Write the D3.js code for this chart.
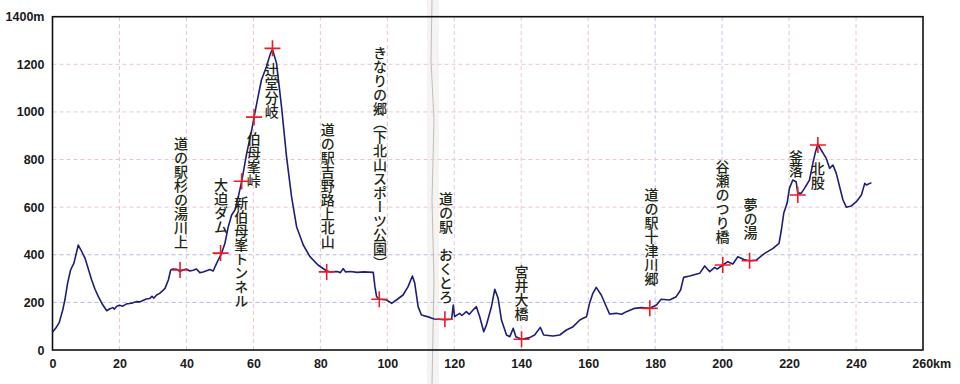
<!DOCTYPE html>
<html>
<head>
<meta charset="utf-8">
<script src="https://cdn.jsdelivr.net/npm/d3@7"></script>
<style>
  html, body { margin: 0; padding: 0; background: #fff; }
  svg { display: block; }
  .tick-label { font-family: "Liberation Sans", Arial, sans-serif; font-weight: bold; font-size: 12.5px; fill: #1a1a1a; }
  .place { font-family: "Noto Sans CJK JP", sans-serif; font-weight: 500; font-size: 14px; fill: #1c2614; writing-mode: vertical-rl; }
</style>
</head>
<body>
<svg id="chart" width="960" height="384"></svg>
<script>
// profile: distance (km) / elevation (m)
var distKm = [0,1,2,3,3.7,4.5,5.4,6.4,7.7,8.5,9.7,10.7,11.7,12.7,13.7,15,16.2,17,18,18.5,19.2,20,21,22,23,24,25,26,27,28,29,29.7,30.3,31.1,32,33,33.6,34.6,35.3,36,37.1,38,39,40,41,42,43,44,45,46,47,48,49,50.5,51.5,52.5,53.5,54.5,55.5,56.5,58,59.5,60.2,61.4,62.4,63.9,65.1,65.7,66.9,68.4,69.9,71.4,72.9,74.9,76.9,79.3,81.8,83,85,86,86.8,87.5,89,91,93,95.8,96.3,96.8,97.6,99.8,101.3,102.7,104.7,106.2,107.5,108.2,109.2,110.2,112.7,114,115.2,117.2,119.2,119.7,120.1,121.6,122.3,123.6,124.5,125.6,126.6,127.6,128.8,129.6,131.1,132.1,133.1,134.1,135.6,136.6,137.6,138.4,140.1,142.5,144,145.7,146.7,149.5,151.5,153.5,155.5,157.5,158.5,159.5,160.4,161.4,162.4,163.9,165.2,166.4,168.4,170,171.4,173.9,176,178.4,180.4,181.8,184.3,186.3,187.6,188.5,190.3,193.3,194.8,196.3,197.8,198.5,200.2,201.7,203.2,204.7,206.5,208.2,210.2,212.7,215.2,217,217.7,218.4,219.4,220.1,221.1,222.1,222.6,223.6,224.6,226.1,227.1,227.9,228.6,229.6,231.1,232.1,233.1,234.1,235.1,236.1,237.1,238.6,240.1,241.6,242.6,243.1,244.6];
var elevM = [75,92,115,165,210,280,336,365,441,420,386,340,294,255,224,190,165,172,178,172,184,188,184,193,195,198,203,202,208,214,216,225,218,231,238,250,259,294,336,340,339,330,336,340,332,335,340,325,328,333,338,332,364,406,448,518,567,588,644,707,826,924,978,1064,1134,1190,1246,1262,1205,1022,812,644,518,441,392,357,333,328,330,325,342,328,330,326,328,326,266,224,213,210,196,210,231,266,311,280,182,147,137,130,129,127,129,189,140,154,145,161,150,168,182,140,77,105,182,255,217,126,63,56,91,56,45,52,63,95,63,59,63,84,98,126,133,140,196,238,263,231,189,151,154,150,161,175,178,175,189,213,210,224,252,305,311,322,353,329,347,340,357,371,361,392,380,375,378,406,427,448,504,574,616,679,714,707,660,658,679,714,784,833,865,840,805,763,777,742,686,630,600,605,623,651,700,693,703];

// named points along the route
var placeNames = ["道の駅杉の湯川上","大迫ダム","新伯母峯トンネル","伯母峯峠","辻堂分岐","道の駅吉野路上北山","きなりの郷（下北山スポーツ公園）","道の駅　おくとろ","宮井大橋","道の駅十津川郷","谷瀬のつり橋","夢の湯","釜落","北股"];
var placeKm = [38.1,50.2,56.5,60.2,65.7,81.9,97.6,117.2,140.1,178.4,200.2,208.2,222.6,228.6];
var placeM  = [336,407,709,978,1267,328,213,129,45,175,357,375,651,861];

// where each name's column starts (in chart units)
var labelKm  = [38.4,50.3,56.4,60.1,65.5,82.2,97.8,117.5,140.1,178.9,200.1,208.5,222.1,228.6];
var labelTop = [895,723,647,916,1206,954,1277,664,357,681,798,639,840,790];

var xTicks = [0,20,40,60,80,100,120,140,160,180,200,220,240,260];
var yTicks = [0,200,400,600,800,1000,1200,1400];

var svg = d3.select("#chart");
var margin = {left: 52.5, right: 37, top: 16.7, bottom: 34};
var W = 960, H = 384;

var x = d3.scaleLinear().domain([0, 260]).range([margin.left, W - margin.right]);
var y = d3.scaleLinear().domain([0, 1400]).range([H - margin.bottom, margin.top]);

// paper crease
svg.append("rect").attr("x", 427).attr("y", 0).attr("width", 12).attr("height", H)
  .attr("fill", "#e2dcd6").attr("opacity", 0.3);
svg.append("path").attr("d", "M432,0 L431,60 L434,120 L432,200 L434,280 L432,384")
  .attr("stroke", "#8a8480").attr("stroke-width", 1).attr("fill", "none").attr("opacity", 0.5);

// grid
svg.append("g").selectAll("line").data(xTicks.slice(1, -1)).enter().append("line")
  .attr("x1", function(d){ return x(d); }).attr("x2", function(d){ return x(d); })
  .attr("y1", y(0)).attr("y2", y(1400))
  .attr("stroke", function(d){ return (d == 180 || d == 200) ? "#c4c4e6" : "#e8c6d2"; })
  .attr("stroke-width", 1).attr("stroke-dasharray", "4,3");

svg.append("g").selectAll("line").data(yTicks.slice(1, -1)).enter().append("line")
  .attr("x1", x(0)).attr("x2", x(260))
  .attr("y1", function(d){ return y(d); }).attr("y2", function(d){ return y(d); })
  .attr("stroke", function(d){ return d <= 400 ? "#b8b8e2" : "#e8c6d2"; })
  .attr("stroke-width", 1).attr("stroke-dasharray", "4,3");

// frame
svg.append("rect").attr("x", x(0)).attr("y", y(1400))
  .attr("width", x(260) - x(0)).attr("height", y(0) - y(1400))
  .attr("fill", "none").attr("stroke", "#111").attr("stroke-width", 1.6);

// axes
var yAxis = d3.axisLeft(y).tickValues(yTicks).tickSize(0).tickPadding(8)
  .tickFormat(function(d){ return d == 1400 ? "1400m" : d; });
var gy = svg.append("g").attr("transform", "translate(" + x(0) + ",0)").call(yAxis);
gy.select(".domain").remove();
gy.selectAll("text").attr("class", "tick-label");

var xAxis = d3.axisBottom(x).tickValues(xTicks).tickSize(0).tickPadding(9)
  .tickFormat(function(d){ return d; });
var gx = svg.append("g").attr("transform", "translate(0," + y(0) + ")").call(xAxis);
gx.select(".domain").remove();
gx.selectAll("text").attr("class", "tick-label");
gx.selectAll(".tick").filter(function(d){ return d == 260; }).select("text")
  .append("tspan").text("km");
gx.selectAll(".tick").filter(function(d){ return d == 260; }).select("text")
  .attr("text-anchor", "start").attr("dx", "-0.9em");

// profile line
var profile = distKm.map(function(d, i){ return [d, elevM[i]]; });
var line = d3.line().x(function(d){ return x(d[0]); }).y(function(d){ return y(d[1]); });
svg.append("path").datum(profile).attr("d", line)
  .attr("fill", "none").attr("stroke", "#1e1e7a").attr("stroke-width", 1.6)
  .attr("stroke-linejoin", "round");

// labels
svg.append("g").selectAll("text").data(placeNames).enter().append("text")
  .attr("class", "place")
  .attr("x", function(d, i){ return x(labelKm[i]); })
  .attr("y", function(d, i){ return y(labelTop[i]); })
  .text(function(d){ return d; });

// red crosses
var crosses = svg.append("g").selectAll("g").data(placeNames).enter().append("g")
  .attr("transform", function(d, i){ return "translate(" + x(placeKm[i]) + "," + y(placeM[i]) + ")"; });
crosses.append("path").attr("d", "M-8,0H8M0,-8V8")
  .attr("stroke", "#ec1c24").attr("stroke-width", 1.6).attr("fill", "none");
</script>
</body>
</html>
